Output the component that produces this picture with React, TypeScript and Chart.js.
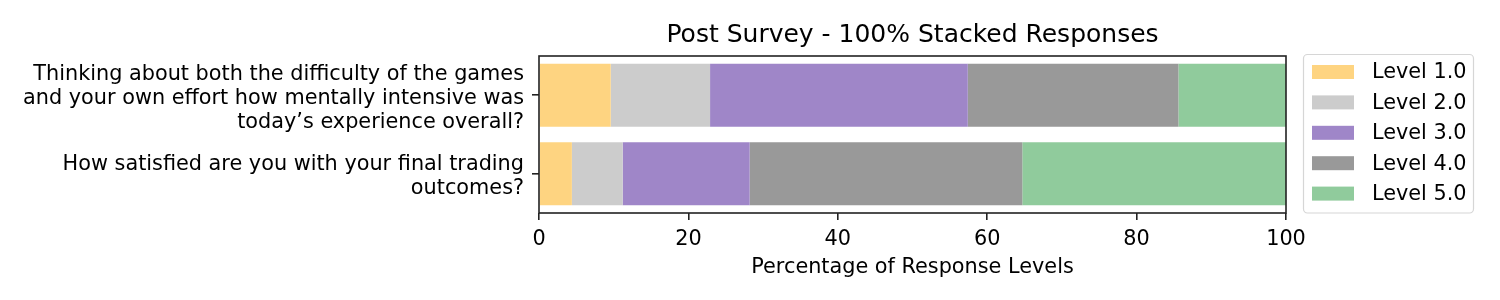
import React, { useEffect, useRef } from "react";
import { Chart, registerables } from "chart.js";

Chart.register(...registerables);

const categories: string[][] = [
  [
    "Thinking about both the difficulty of the games",
    "and your own effort how mentally intensive was",
    "today’s experience overall?",
  ],
  ["How satisfied are you with your final trading", "outcomes?"],
];

const levelLabels = ["Level 1.0", "Level 2.0", "Level 3.0", "Level 4.0", "Level 5.0"];
const level1 = [9.6, 4.4];
const level2 = [13.3, 6.8];
const level3 = [34.5, 17.0];
const level4 = [28.2, 36.5];
const level5 = [14.4, 35.3];
const levelColors = ["#fed481", "#cccccc", "#9f86c8", "#999999", "#90cb9c"];

const xTicks = [0, 20, 40, 60, 80, 100];
const titleText = "Post Survey - 100% Stacked Responses";
const xTitle = "Percentage of Response Levels";

const FONT = "'DejaVu Sans', sans-serif";
const FS = 20.8;

const framePlugin = {
  id: "frame",
  afterDatasetsDraw(chart: any) {
    const { ctx, chartArea } = chart;
    ctx.save();
    ctx.strokeStyle = "#222222";
    ctx.lineWidth = 1.6;
    ctx.strokeRect(chartArea.left, chartArea.top, chartArea.right - chartArea.left, chartArea.bottom - chartArea.top);
    ctx.restore();
  },
};

const titlePlugin = {
  id: "mplTitle",
  afterDraw(chart: any) {
    const { ctx, chartArea } = chart;
    ctx.save();
    ctx.font = `25px ${FONT}`;
    ctx.fillStyle = "#000000";
    ctx.textAlign = "center";
    ctx.textBaseline = "alphabetic";
    ctx.fillText(titleText, (chartArea.left + chartArea.right) / 2, chartArea.top - 14);
    ctx.restore();
  },
};

const legendPlugin = {
  id: "mplLegend",
  afterDraw(chart: any) {
    const { ctx, chartArea } = chart;
    const left = chartArea.right + 17.5;
    const top = chartArea.top - 1.5;
    const w = 170;
    const h = chartArea.bottom - chartArea.top + 1.5;
    ctx.save();
    ctx.beginPath();
    ctx.roundRect(left, top, w, h, 4);
    ctx.fillStyle = "rgba(255,255,255,0.8)";
    ctx.fill();
    ctx.strokeStyle = "#d6d6d6";
    ctx.lineWidth = 1.2;
    ctx.stroke();
    ctx.font = `${FS}px ${FONT}`;
    ctx.textBaseline = "middle";
    ctx.textAlign = "left";
    chart.data.datasets.forEach((ds: any, i: number) => {
      const cy = chartArea.top + 16 + i * 30.4;
      ctx.fillStyle = ds.backgroundColor;
      ctx.fillRect(left + 8.5, cy - 7, 42, 14);
      ctx.fillStyle = "#000000";
      ctx.fillText(ds.label, left + 68.5, cy + 1);
    });
    ctx.restore();
  },
};

export default function App() {
  const ref = useRef<HTMLCanvasElement | null>(null);

  useEffect(() => {
    if (!ref.current) return;
    const series = [level1, level2, level3, level4, level5];
    const chart = new Chart(ref.current, {
      type: "bar",
      data: {
        labels: categories,
        datasets: series.map((d, i) => ({
          label: levelLabels[i],
          data: d,
          backgroundColor: levelColors[i],
          borderWidth: 0,
          barPercentage: 0.8,
          categoryPercentage: 1.0,
        })),
      },
      options: {
        indexAxis: "y",
        animation: false,
        responsive: false,
        devicePixelRatio: 1,
        layout: { padding: { left: 0, right: 214, top: 56, bottom: 0 } },
        plugins: {
          legend: { display: false },
          tooltip: { enabled: false },
          title: { display: false },
        },
        scales: {
          x: {
            stacked: true,
            min: 0,
            max: 100,
            afterBuildTicks(scale: any) {
              scale.ticks = xTicks.map((v) => ({ value: v }));
            },
            afterFit(scale: any) {
              scale.height = 87;
            },
            ticks: {
              color: "#000000",
              font: { family: FONT, size: FS },
              padding: 7,
              maxRotation: 0,
            },
            grid: {
              display: true,
              drawOnChartArea: false,
              drawTicks: true,
              tickLength: 7,
              color: "#222222",
              lineWidth: 1.6,
            },
            border: { display: false },
            title: {
              display: true,
              text: xTitle,
              color: "#000000",
              font: { family: FONT, size: FS, lineHeight: 1.2 },
              padding: { top: 0, bottom: 20 },
            },
          },
          y: {
            stacked: true,
            afterFit(scale: any) {
              scale.width = 539;
            },
            ticks: {
              color: "#000000",
              font: { family: FONT, size: FS, lineHeight: 1.15 },
              padding: 8,
              labelOffset: 3,
              crossAlign: "near",
            },
            grid: {
              display: true,
              offset: false,
              drawOnChartArea: false,
              drawTicks: true,
              tickLength: 7,
              color: "#222222",
              lineWidth: 1.6,
            },
            border: { display: false },
          },
        },
      } as any,
      plugins: [framePlugin, titlePlugin, legendPlugin],
    });
    return () => chart.destroy();
  }, []);

  return (
    <div style={{ position: "fixed", left: 0, top: 0, width: 1500, height: 300, background: "#ffffff" }}>
      <canvas ref={ref} width={1500} height={300} style={{ width: 1500, height: 300 }} />
    </div>
  );
}
